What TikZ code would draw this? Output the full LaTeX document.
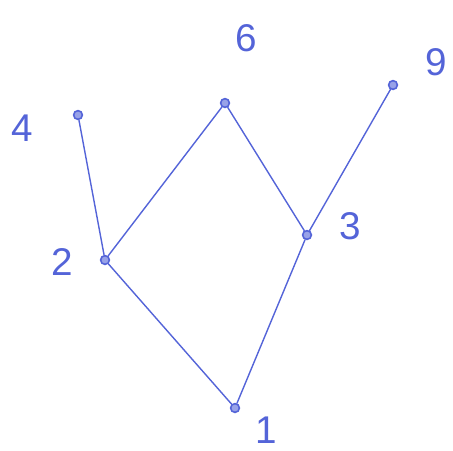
\documentclass[tikz,border=0pt]{standalone}
\usepackage{fontspec}
\setmainfont{Liberation Sans}
\usetikzlibrary{positioning}
\definecolor{penBlue}{HTML}{5464D8}

\begin{document}
\begin{tikzpicture}[x=0.02cm, y=-0.02cm,
    dot/.style={circle, draw=penBlue, line width=0.9pt, fill=penBlue!60, inner sep=0pt, minimum size=5pt},
    numLabel/.style={text=penBlue, font=\fontsize{22}{24}\selectfont},
    stroke/.style={draw=penBlue, line width=0.8pt, line cap=round},
]
\useasboundingbox (0,0) rectangle (453,450);
% elements of the order
\node[dot] (n4) at (78,115) {};
\node[dot] (n6) at (225,103) {};
\node[dot] (n9) at (393,85) {};
\node[dot] (n2) at (105,260) {};
\node[dot] (n3) at (307,235) {};
\node[dot] (n1) at (235,408) {};
% labels
\node[numLabel] (l4) at (22,128) {4};
\node[numLabel] (l6) at (246,38) {6};
\node[numLabel] (l9) at (436,62) {9};
\node[numLabel] (l2) at (62,262) {2};
\node[numLabel] (l3) at (350,226) {3};
\node[numLabel] (l1) at (266,430) {1};
% covering relations
\draw[stroke] (n4) -- (n2);
\draw[stroke] (n6) -- (n2);
\draw[stroke] (n2) -- (n1);
\draw[stroke] (n6) -- (n3);
\draw[stroke] (n9) -- (n3);
\draw[stroke] (n3) -- (n1);
\end{tikzpicture}
\end{document}
